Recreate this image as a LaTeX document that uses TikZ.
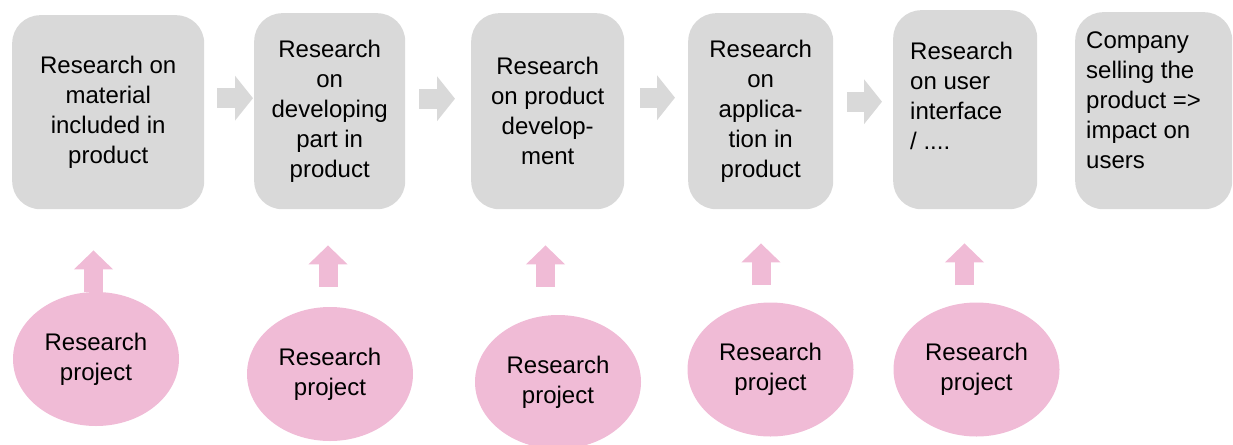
\documentclass[tikz,border=0pt]{standalone}
\usepackage{fontspec}
\setmainfont{Liberation Sans}
\usetikzlibrary{arrows.meta,shapes.geometric}
\definecolor{boxgray}{HTML}{D9D9D9}
\definecolor{projpink}{HTML}{F0BBD6}

\begin{document}
\begin{tikzpicture}
  [x=1pt,y=-1pt,
   every node/.style={font=\fontsize{24}{30}\selectfont,inner sep=0pt},
   stage/.style={fill=boxgray,rounded corners=28pt,anchor=north west,align=center},
   project/.style={ellipse,fill=projpink,minimum width=166pt,minimum height=134pt,align=center},
   flow/.style={boxgray,line width=20pt,-{Triangle[length=18pt,width=44pt]}},
   push/.style={projpink,line width=19pt,-{Triangle[length=19pt,width=38pt]}}]
  \useasboundingbox (0,0) rectangle (1233,444);

  \node[stage,minimum width=192pt,minimum height=194pt] (b1) at (12,15) {Research on\\material\\included in\\product};
  \node[stage,minimum width=151pt,minimum height=196pt] (b2) at (254,13) {Research\\on\\developing\\part in\\product};
  \node[stage,minimum width=153pt,minimum height=196pt] (b3) at (471,13) {Research\\on product\\develop-\\ment};
  \node[stage,minimum width=145pt,minimum height=196pt] (b4) at (688,13) {Research\\on\\applica-\\tion in\\product};
  \node[stage,minimum width=144pt,minimum height=199pt] (b5) at (893,10) {};
  \node[stage,minimum width=157pt,minimum height=197pt] (b6) at (1075,12) {};
  \node[anchor=north west,align=left] (t5) at ([shift={(17,32)}]b5.north west) {Research\\on user\\interface\\/ ....};
  \node[anchor=north west,align=left] (t6) at ([shift={(11,20)}]b6.north west) {Company\\selling the\\product =>\\impact on\\users};

  \node[project] (e1) at (96,359) {Research\\project};
  \node[project] (e2) at (330,374) {Research\\project};
  \node[project] (e3) at (558,382) {Research\\project};
  \node[project] (e4) at (770.5,369.5) {Research\\project};
  \node[project] (e5) at (976.5,369.5) {Research\\project};

  \foreach \from/\to/\dy/\sa/\sb in {1/2/14/13/1,2/3/12.5/14/16,3/4/13.5/16/13,4/5/9.5/14/11}
    \draw[flow,shorten <=\sa pt,shorten >=\sb pt] ([yshift=\dy pt]b\from.east) -- ([yshift=\dy pt]b\from.east -| b\to.west);

  \foreach \i/\dx/\sa/\sb in {1/-2.5/0/41,2/-2/20/36,3/-12.5/28/36,4/-9.5/17/34,5/-12/17/34}
    \draw[push,shorten <=\sa pt,shorten >=\sb pt] ([xshift=\dx pt]e\i.north) -- ([xshift=\dx pt]e\i.north |- b\i.south);

\end{tikzpicture}
\end{document}
